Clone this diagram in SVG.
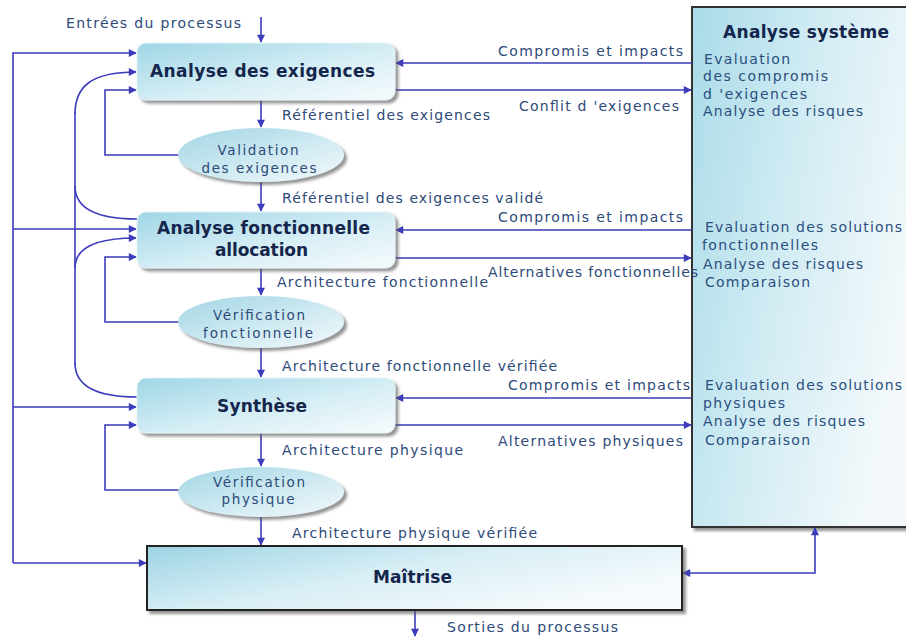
<svg xmlns="http://www.w3.org/2000/svg" width="906" height="639" viewBox="0 0 906 639">
<defs>
<linearGradient id="gNode" x1="0" y1="0" x2="1" y2="1">
<stop offset="0" stop-color="#9fd6e6"/>
<stop offset="0.55" stop-color="#d6eef5"/>
<stop offset="1" stop-color="#f7fbfd"/>
</linearGradient>
<linearGradient id="gEll" x1="0" y1="0" x2="1" y2="1">
<stop offset="0" stop-color="#a2d6e5"/>
<stop offset="0.6" stop-color="#d4ecf3"/>
<stop offset="1" stop-color="#f2f9fb"/>
</linearGradient>
<linearGradient id="gSys" x1="0" y1="0" x2="1" y2="0.4">
<stop offset="0" stop-color="#a9dbe9"/>
<stop offset="0.5" stop-color="#d2ecf3"/>
<stop offset="1" stop-color="#f3f9fb"/>
</linearGradient>
<linearGradient id="gMai" x1="0" y1="0" x2="1" y2="0.6">
<stop offset="0" stop-color="#9dd4e4"/>
<stop offset="0.5" stop-color="#d8eef5"/>
<stop offset="1" stop-color="#f7fbfd"/>
</linearGradient>
<filter id="shadow" x="-10%" y="-20%" width="125%" height="150%">
<feDropShadow dx="3" dy="3" stdDeviation="1.5" flood-color="#5a5a5a" flood-opacity="0.65"/>
</filter>
<marker id="arr" viewBox="0 0 10 10" refX="9" refY="5" markerWidth="9" markerHeight="8" markerUnits="userSpaceOnUse" orient="auto-start-reverse">
<path d="M0,0 L10,5 L0,10 z" fill="#3b3bbb"/>
</marker>
<style>
.lbl{font-family:"DejaVu Sans","Liberation Sans",sans-serif;font-size:14px;fill:#2d4a78;}
.sys{font-family:"DejaVu Sans","Liberation Sans",sans-serif;font-size:14px;fill:#2a4f7e;}
.ttl{font-family:"DejaVu Sans","Liberation Sans",sans-serif;font-size:17px;font-weight:bold;fill:#14264c;}
.ell{font-family:"DejaVu Sans","Liberation Sans",sans-serif;font-size:13.5px;fill:#2d4a78;text-anchor:middle;}
.con{fill:none;stroke:#3b3bbb;stroke-width:1.6;}
.arr{marker-end:url(#arr);}
</style>
</defs>
<rect width="906" height="639" fill="#ffffff"/>

<g id="analyse-systeme">
<rect x="692" y="7" width="230" height="520" fill="url(#gSys)" stroke="#333" stroke-width="2" filter="url(#shadow)"/>
<text class="ttl" x="723" y="38" textLength="166">Analyse système</text>
<text class="sys" x="704" y="64" textLength="86">Evaluation</text>
<text class="sys" x="703" y="81" textLength="125">des compromis</text>
<text class="sys" x="703" y="99" textLength="104">d 'exigences</text>
<text class="sys" x="703" y="116" textLength="160">Analyse des risques</text>
<text class="sys" x="705" y="232" textLength="197">Evaluation des solutions</text>
<text class="sys" x="702" y="250" textLength="116">fonctionnelles</text>
<text class="sys" x="703" y="269" textLength="160">Analyse des risques</text>
<text class="sys" x="705" y="287" textLength="105">Comparaison</text>
<text class="sys" x="705" y="390" textLength="197">Evaluation des solutions</text>
<text class="sys" x="703" y="408" textLength="82">physiques</text>
<text class="sys" x="703" y="426" textLength="162">Analyse des risques</text>
<text class="sys" x="705" y="445" textLength="105">Comparaison</text>
</g>

<g id="connecteurs">
<path class="con arr" d="M261,17 V42"/>
<path class="con arr" d="M261,100 V127"/>
<path class="con arr" d="M261,182 V211"/>
<path class="con arr" d="M261,268 V295"/>
<path class="con arr" d="M261,348 V377"/>
<path class="con arr" d="M261,433 V466"/>
<path class="con arr" d="M261,517 V545"/>
<path class="con arr" d="M415,610 V636"/>

<path class="con arr" d="M13,563 V53 H136"/>
<path class="con arr" d="M13,229 H136"/>
<path class="con arr" d="M13,407 H136"/>
<path class="con arr" d="M13,563 H146"/>

<path class="con" d="M75,112 V365"/>
<path class="con arr" d="M75,114 C75,86 92,72 136,72"/>
<path class="con" d="M75,186 C75,208 95,219 137,219"/>
<path class="con arr" d="M75,268 C75,250 92,238 136,238"/>
<path class="con" d="M75,363 C75,385 95,397 137,397"/>

<path class="con arr" d="M179,155 H105 V90 H136"/>
<path class="con arr" d="M179,322 H105 V257 H136"/>
<path class="con arr" d="M179,490 H105 V425 H136"/>

<path class="con arr" d="M692,63 H396"/>
<path class="con arr" d="M395,90 H691"/>
<path class="con arr" d="M692,230 H396"/>
<path class="con arr" d="M395,258 H691"/>
<path class="con arr" d="M692,398 H396"/>
<path class="con arr" d="M395,425 H691"/>
<path class="con" d="M683,573 H815 V528" marker-start="url(#arr)" marker-end="url(#arr)"/>

<text class="lbl" x="66" y="28" textLength="175">Entrées du processus</text>
<text class="lbl" x="498" y="56" textLength="185">Compromis et impacts</text>
<text class="lbl" x="519" y="111" textLength="160">Conflit d 'exigences</text>
<text class="lbl" x="282" y="120" textLength="208">Référentiel des exigences</text>
<text class="lbl" x="282" y="203" textLength="261">Référentiel des exigences validé</text>
<text class="lbl" x="498" y="222" textLength="185">Compromis et impacts</text>
<text class="lbl" x="488" y="277" textLength="210">Alternatives fonctionnelles</text>
<text class="lbl" x="277" y="287" textLength="211">Architecture fonctionnelle</text>
<text class="lbl" x="282" y="371" textLength="275">Architecture fonctionnelle vérifiée</text>
<text class="lbl" x="508" y="390" textLength="182">Compromis et impacts</text>
<text class="lbl" x="498" y="446" textLength="185">Alternatives physiques</text>
<text class="lbl" x="282" y="455" textLength="181">Architecture physique</text>
<text class="lbl" x="292" y="538" textLength="245">Architecture physique vérifiée</text>
<text class="lbl" x="447" y="632" textLength="171">Sorties du processus</text>
</g>

<g id="analyse-exigences">
<rect x="137" y="43" width="258" height="57" rx="9" fill="url(#gNode)" stroke="#e4f2f6" stroke-width="1" filter="url(#shadow)"/>
<text class="ttl" x="150" y="77" textLength="225" font-size="18">Analyse des exigences</text>
</g>

<g id="validation-exigences">
<ellipse cx="261" cy="155" rx="83" ry="27" fill="url(#gEll)" filter="url(#shadow)"/>
<text class="ell" x="258" y="155" textLength="81">Validation</text>
<text class="ell" x="259" y="173" textLength="115">des exigences</text>
</g>

<g id="analyse-fonctionnelle">
<rect x="137" y="212" width="258" height="56" rx="9" fill="url(#gNode)" stroke="#e4f2f6" stroke-width="1" filter="url(#shadow)"/>
<text class="ttl" x="157" y="234" textLength="213" font-size="18">Analyse fonctionnelle</text>
<text class="ttl" x="215" y="256" textLength="93" font-size="18">allocation</text>
</g>

<g id="verification-fonctionnelle">
<ellipse cx="261" cy="322" rx="83" ry="26" fill="url(#gEll)" filter="url(#shadow)"/>
<text class="ell" x="259" y="320" textLength="92">Vérification</text>
<text class="ell" x="258" y="338" textLength="110">fonctionnelle</text>
</g>

<g id="synthese">
<rect x="137" y="378" width="258" height="55" rx="9" fill="url(#gNode)" stroke="#e4f2f6" stroke-width="1" filter="url(#shadow)"/>
<text class="ttl" x="217" y="412" textLength="90" font-size="18">Synthèse</text>
</g>

<g id="verification-physique">
<ellipse cx="261" cy="492" rx="83" ry="25" fill="url(#gEll)" filter="url(#shadow)"/>
<text class="ell" x="259" y="487" textLength="92">Vérification</text>
<text class="ell" x="258" y="504" textLength="73">physique</text>
</g>

<g id="maitrise">
<rect x="147" y="546" width="535" height="64" fill="url(#gMai)" stroke="#222" stroke-width="2" filter="url(#shadow)"/>
<text class="ttl" x="373" y="583" textLength="79" font-size="18">Maîtrise</text>
</g>
</svg>
